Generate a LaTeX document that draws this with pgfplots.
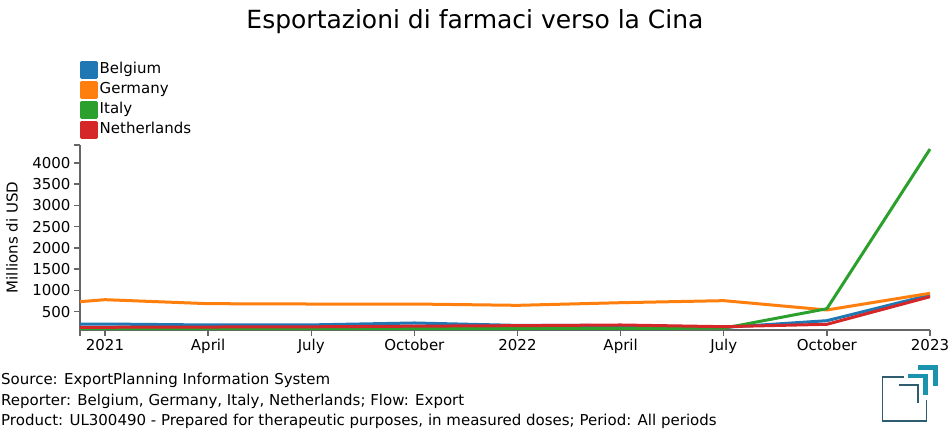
\documentclass[border=0pt]{standalone}
\usepackage{pgfplots}
\pgfplotsset{compat=1.18}
\usepackage{fontspec}
\setmainfont{DejaVu Sans}
\definecolor{cB}{HTML}{1F77B4}
\definecolor{cG}{HTML}{FF7F0E}
\definecolor{cI}{HTML}{2CA02C}
\definecolor{cN}{HTML}{D62728}
\definecolor{axgray}{HTML}{666666}
\definecolor{logodark}{HTML}{2F5D70}
\definecolor{logoteal}{HTML}{1B93AE}
\newcommand{\fs}{\fontsize{15bp}{18bp}\selectfont}
\begin{document}
\begin{tikzpicture}[x=1bp,y=1bp]
\useasboundingbox (0,0) rectangle (950,-435);
\node[font=\fontsize{25bp}{29bp}\selectfont] at (475,-22) {Esportazioni di farmaci verso la Cina};
\begin{axis}[
  at={(80bp,-330bp)}, anchor=south west,
  scale only axis, width=850bp, height=185bp,
  xmin=-0.727, xmax=24, ymin=70, ymax=4420,
  axis x line=bottom, axis y line=left,
  axis line style={-, draw=axgray, line width=1.6bp},
  tick style={draw=axgray, line width=1.4bp},
  major tick length=6bp, tick align=outside,
  xtick={0,3,...,24},
  xticklabels={2021,April,July,October,2022,April,July,October,2023},
  extra x ticks={-0.727}, extra x tick labels={},
  ytick={500,1000,...,4000},
  extra y ticks={4420}, extra y tick labels={},
  /pgf/number format/1000 sep={},
  /pgf/number format/assume math mode=true,
  ticklabel style={font=\fs},
  ylabel={Millions di USD},
  ylabel style={font=\fs, at={(axis description cs:-0.08,0.5)}, anchor=center},
  legend style={at={(0,1)}, anchor=south west, yshift=6bp, draw=none, fill=none,
    font=\fs, inner sep=0pt, row sep=2bp,
    nodes={inner sep=1.5bp, text height=11bp, text depth=3bp}},
  legend cell align=left,
  legend image code/.code={\fill[#1] (0bp,-7.5bp) rectangle (15bp,7.5bp);},
  every axis plot/.append style={line width=3bp, line join=round},
  clip=false,
]
\addplot[color=cB] coordinates {(-0.727,211) (0,211) (3,188) (6,190) (9,235) (12,178) (15,175) (18,130) (21,289) (24,893)};
\addlegendentry{Belgium}
\addplot[color=cG] coordinates {(-0.727,736) (0,783) (3,689) (6,681) (9,681) (12,650) (15,712) (18,760) (21,541) (24,933)};
\addlegendentry{Germany}
\addplot[color=cI] coordinates {(-0.727,100) (0,100) (3,105) (6,105) (9,105) (12,105) (15,110) (18,112) (21,571) (24,4324)};
\addlegendentry{Italy}
\addplot[color=cN] coordinates {(-0.727,134) (0,134) (3,140) (6,145) (9,160) (12,172) (15,188) (18,148) (21,204) (24,853)};
\addlegendentry{Netherlands}
\end{axis}
\node[font=\fs, anchor=base west, inner sep=0pt] at (1,-385) {Source: ExportPlanning Information System};
\node[font=\fs, anchor=base west, inner sep=0pt] at (1,-405) {Reporter: Belgium, Germany, Italy, Netherlands; Flow: Export};
\node[font=\fs, anchor=base west, inner sep=0pt] at (1,-425) {Product: UL300490 - Prepared for therapeutic purposes, in measured doses; Period: All periods};
\draw[logodark, line width=1.8bp] (904,-377) -- (882.5,-377) -- (882.5,-421) -- (926.5,-421) -- (926.5,-400);
\draw[logodark, line width=1.8bp] (899,-385) -- (918,-385) -- (918,-403);
\draw[logoteal, line width=4.5bp] (908,-376) -- (925.5,-376) -- (925.5,-395);
\draw[logoteal, line width=5bp] (918,-367.5) -- (935.5,-367.5) -- (935.5,-386);
\end{tikzpicture}
\end{document}
